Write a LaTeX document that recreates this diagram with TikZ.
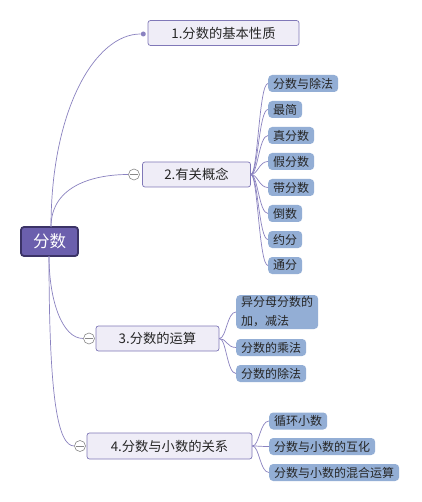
\documentclass[tikz,border=0pt]{standalone}
\usepackage{fontspec}
\usetikzlibrary{calc}
\setmainfont{Noto Sans CJK SC}
\begin{document}
\begin{tikzpicture}[x=1pt,y=-1pt,
  edge/.style={draw=edgec,line width=0.7pt},
  rootbox/.style={draw=rootb,fill=rootf,line width=1.8pt,rounded corners=3pt,minimum width=57pt,minimum height=29pt,text=white,font=\fontsize{16.5}{16.5}\selectfont,inner sep=0pt},
  mainbox/.style={draw=mainb,fill=mainf,line width=0.7pt,rounded corners=2.5pt,minimum height=25pt,text=txtc,font=\fontsize{13.3}{13.3}\selectfont,inner sep=0pt},
  leafbox/.style={fill=leaff,rounded corners=4pt,minimum height=17pt,inner xsep=5pt,inner ysep=0pt,anchor=west,text=txtc,font=\fontsize{12}{12}\selectfont},
  toggle/.style={circle,draw=togc,fill=white,line width=0.6pt,minimum size=11pt,inner sep=0pt},
  dotn/.style={circle,fill=edgec,minimum size=5pt,inner sep=0pt}
]
\definecolor{edgec}{HTML}{8A82C0}
\definecolor{rootb}{HTML}{3B3366}
\definecolor{rootf}{HTML}{6B5FAD}
\definecolor{mainb}{HTML}{8078B8}
\definecolor{mainf}{HTML}{EFEDF7}
\definecolor{leaff}{HTML}{93AED5}
\definecolor{txtc}{HTML}{262626}
\definecolor{togc}{HTML}{888888}
\fill[white] (0,0) rectangle (421,502);
\useasboundingbox (0,0) rectangle (421,502);

% root
\node[rootbox] (root) at (49.5,241.5) {分数};

% main nodes
\node[mainbox,minimum width=151pt] (n1) at (223.5,33) {1.分数的基本性质};
\node[mainbox,minimum width=108pt] (n2) at (196.5,174.5) {2.有关概念};
\node[mainbox,minimum width=123pt] (n3) at (157.5,338.5) {3.分数的运算};
\node[mainbox,minimum width=165pt,minimum height=26pt] (n4) at (169.5,446) {4.分数与小数的关系};

% markers
\node[dotn] (d1) at (143.3,34) {};
\node[toggle] (t2) at (134,174.5) {};
\node[toggle] (t3) at (89,338.5) {};
\node[toggle] (t4) at (80,446) {};
\foreach \t in {t2,t3,t4}{
  \draw[togc,line width=0.6pt] ([xshift=-3.6pt]\t.center) -- ([xshift=3.6pt]\t.center);
}

% root edges
\coordinate (rt) at (51,227);
\coordinate (rb) at (49,256);
\draw[edge] (rt) .. controls (51,110) and (95,34) .. (d1.west);
\draw[edge] (rt) .. controls (51,185) and (95,174.5) .. (t2.west);
\draw[edge] (rb) .. controls (49,300) and (62,338.5) .. (t3.west);
\draw[edge] (rb) .. controls (49,400) and (58,446) .. (t4.west);

% leaves of n2
\node[leafbox] (a1) at (268,83.5) {分数与除法};
\node[leafbox] (a2) at (268,109.5) {最简};
\node[leafbox] (a3) at (268,135.5) {真分数};
\node[leafbox] (a4) at (268,161.5) {假分数};
\node[leafbox] (a5) at (268,187.5) {带分数};
\node[leafbox] (a6) at (268,213.5) {倒数};
\node[leafbox] (a7) at (268,239.5) {约分};
\node[leafbox] (a8) at (268,265.5) {通分};
\foreach \c in {a1,a2,a3,a4,a5,a6,a7,a8}{
  \draw[edge] (n2.east) .. controls ([xshift=7pt]n2.east) and ($(\c.west)+(-9,0)$) .. (\c.west);
}

% leaves of n3
\node[leafbox,minimum height=34pt,align=left,font=\fontsize{12}{19}\selectfont] (b1) at (236,312) {异分母分数的\\加，减法};
\node[leafbox] (b2) at (236,347.5) {分数的乘法};
\node[leafbox] (b3) at (236,373.5) {分数的除法};
\foreach \c in {b1,b2,b3}{
  \draw[edge] (n3.east) .. controls ([xshift=7pt]n3.east) and ($(\c.west)+(-9,0)$) .. (\c.west);
}

% leaves of n4
\node[leafbox] (c1) at (269,421) {循环小数};
\node[leafbox] (c2) at (269,446.5) {分数与小数的互化};
\node[leafbox] (c3) at (269,472.5) {分数与小数的混合运算};
\foreach \c in {c1,c2,c3}{
  \draw[edge] (n4.east) .. controls ([xshift=7pt]n4.east) and ($(\c.west)+(-9,0)$) .. (\c.west);
}
\end{tikzpicture}
\end{document}
